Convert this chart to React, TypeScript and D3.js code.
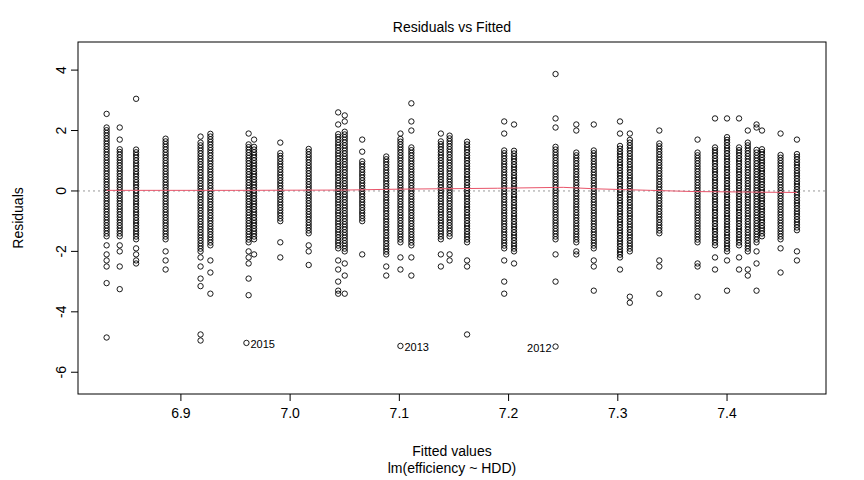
import { useEffect, useRef } from 'react';
import * as d3 from 'd3';

// fitted value, band top, band bottom (dense stack), extra isolated residuals
const columns: [number, number, number, number[]][] = [
  [6.832, 2.1, -1.5, [2.55, -1.8, -2.1, -2.3, -2.5, -3.05, -4.85]],
  [6.844, 1.4, -1.5, [2.1, 1.7, -1.8, -2.0, -2.5, -3.25]],
  [6.859, 1.4, -1.6, [3.05, -1.9, -2.1, -2.3, -2.4]],
  [6.886, 1.8, -1.6, [-2.0, -2.3, -2.6]],
  [6.918, 1.6, -2.0, [1.8, -2.2, -2.5, -2.9, -3.15, -4.95, -4.75]],
  [6.927, 1.9, -1.8, [-2.3, -2.7, -3.4]],
  [6.962, 1.6, -1.7, [1.9, -2.0, -2.2, -2.4, -2.9, -3.45]],
  [6.967, 1.5, -1.6, [1.7, -2.1]],
  [6.991, 1.3, -1.0, [1.6, -1.7, -2.2]],
  [7.017, 1.4, -1.4, [-1.8, -2.0, -2.45]],
  [7.044, 1.9, -1.9, [2.6, 2.2, -2.3, -2.6, -3.0, -3.3, -3.4]],
  [7.05, 2.0, -2.0, [2.5, 2.3, -2.4, -2.8, -3.4]],
  [7.066, 1.0, -1.0, [1.7, 1.3, -2.1]],
  [7.088, 1.2, -2.1, [-2.5, -2.8]],
  [7.101, 1.8, -1.7, [1.9, -2.2, -2.6]],
  [7.111, 1.5, -1.8, [2.9, 2.3, 2.0, -2.2, -2.8]],
  [7.138, 1.7, -1.6, [1.9, -2.1, -2.5]],
  [7.146, 1.9, -1.5, [-2.1, -2.3]],
  [7.162, 1.7, -1.7, [-2.3, -2.5, -4.75]],
  [7.196, 1.4, -1.9, [2.3, 1.9, -2.3, -3.0, -3.4]],
  [7.205, 1.4, -2.0, [2.2, -2.4]],
  [7.243, 1.5, -1.6, [3.87, 2.4, 2.1, -2.1, -3.0]],
  [7.262, 1.3, -1.7, [2.2, 2.0, -2.0, -2.1]],
  [7.278, 1.4, -1.9, [2.2, -2.3, -2.5, -3.3]],
  [7.302, 1.5, -2.2, [2.3, 1.9, -2.6]],
  [7.311, 1.7, -2.0, [1.9, -3.5, -3.7]],
  [7.338, 1.6, -1.4, [2.0, -2.3, -2.5, -3.4]],
  [7.373, 1.3, -1.7, [1.7, -2.4, -2.5, -3.5]],
  [7.389, 1.5, -1.8, [2.4, -2.2, -2.6]],
  [7.4, 1.8, -2.0, [2.4, -2.3, -3.3]],
  [7.411, 1.5, -1.8, [2.4, -2.2, -2.6]],
  [7.419, 1.6, -2.0, [2.0, -2.6, -2.8]],
  [7.427, 1.4, -1.7, [2.2, 2.1, -2.0, -2.4, -3.3]],
  [7.432, 1.4, -1.5, [2.0]],
  [7.449, 1.2, -1.6, [1.9, -1.9, -2.7]],
  [7.464, 1.3, -1.3, [1.7, -2.0, -2.3]],
];

// labelled outliers: fitted, residual, label, side
const labelled: [number, number, string, number][] = [
  [6.96, -5.03, '2015', 1],
  [7.101, -5.13, '2013', 1],
  [7.243, -5.15, '2012', -1],
];

const smooth: [number, number][] = [
  [6.832, 0.02], [6.95, 0.02], [7.05, 0.03], [7.1, 0.06], [7.19, 0.09],
  [7.25, 0.12], [7.28, 0.07], [7.33, 0.02], [7.37, -0.02], [7.43, -0.04], [7.464, -0.05],
];

const xTicks = [6.9, 7.0, 7.1, 7.2, 7.3, 7.4];
const yTicks = [-6, -4, -2, 0, 2, 4];

export default function App() {
  const ref = useRef<SVGSVGElement>(null);

  useEffect(() => {
    const svg = d3.select(ref.current);
    svg.selectAll('*').remove();
    const L = 78, R = 826, T = 42, B = 394;
    const x = d3.scaleLinear().domain([6.8058, 7.4906]).range([L, R]);
    const y = d3.scaleLinear().domain([-6.72, 4.93]).range([B, T]);
    const font = 'Liberation Sans, Arial, sans-serif';

    svg.append('line').attr('x1', L).attr('x2', R).attr('y1', y(0)).attr('y2', y(0))
      .attr('stroke', '#999').attr('stroke-dasharray', '2,3');

    const pts: [number, number][] = [];
    columns.forEach(([f, hi, lo, extra]) => {
      for (let r = lo; r <= hi + 1e-9; r += 0.09) pts.push([f, r]);
      extra.forEach(r => pts.push([f, r]));
    });
    labelled.forEach(([f, r]) => pts.push([f, r]));

    svg.append('g').selectAll('circle').data(pts).enter().append('circle')
      .attr('cx', d => x(d[0])).attr('cy', d => y(d[1])).attr('r', 2.7)
      .attr('fill', 'none').attr('stroke', '#000').attr('stroke-width', 0.9);

    svg.append('path').datum(smooth)
      .attr('d', d3.line<[number, number]>().x(d => x(d[0])).y(d => y(d[1])))
      .attr('fill', 'none').attr('stroke', '#e8546a').attr('stroke-width', 1);

    svg.selectAll('.lab').data(labelled).enter().append('text')
      .attr('x', d => x(d[0]) + d[3] * 4).attr('y', d => y(d[1]) + 5)
      .attr('text-anchor', d => (d[3] > 0 ? 'start' : 'end'))
      .attr('font-family', font).attr('font-size', 11).text(d => d[2]);

    svg.append('rect').attr('x', L).attr('y', T).attr('width', R - L).attr('height', B - T)
      .attr('fill', 'none').attr('stroke', '#000');

    const xa = svg.append('g');
    xTicks.forEach(t => {
      xa.append('line').attr('x1', x(t)).attr('x2', x(t)).attr('y1', B).attr('y2', B + 7).attr('stroke', '#000');
      xa.append('text').attr('x', x(t)).attr('y', B + 24).attr('text-anchor', 'middle')
        .attr('font-family', font).attr('font-size', 14).text(t.toFixed(1));
    });
    const ya = svg.append('g');
    yTicks.forEach(t => {
      ya.append('line').attr('x1', L - 7).attr('x2', L).attr('y1', y(t)).attr('y2', y(t)).attr('stroke', '#000');
      ya.append('text').attr('transform', `translate(${L - 12},${y(t)}) rotate(-90)`)
        .attr('text-anchor', 'middle').attr('font-family', font).attr('font-size', 14).text(String(t));
    });

    svg.append('text').attr('x', (L + R) / 2).attr('y', 32).attr('text-anchor', 'middle')
      .attr('font-family', font).attr('font-size', 14).text('Residuals vs Fitted');
    svg.append('text').attr('x', (L + R) / 2).attr('y', 456).attr('text-anchor', 'middle')
      .attr('font-family', font).attr('font-size', 14).text('Fitted values');
    svg.append('text').attr('x', (L + R) / 2).attr('y', 473).attr('text-anchor', 'middle')
      .attr('font-family', font).attr('font-size', 14).text('lm(efficiency ~ HDD)');
    svg.append('text').attr('transform', `translate(23,${(T + B) / 2}) rotate(-90)`)
      .attr('text-anchor', 'middle').attr('font-family', font).attr('font-size', 14).text('Residuals');
  }, []);

  return (
    <div style={{ position: 'absolute', left: 0, top: 0 }}>
      <svg ref={ref} width={864} height={480} style={{ display: 'block', background: '#fff' }} />
    </div>
  );
}
